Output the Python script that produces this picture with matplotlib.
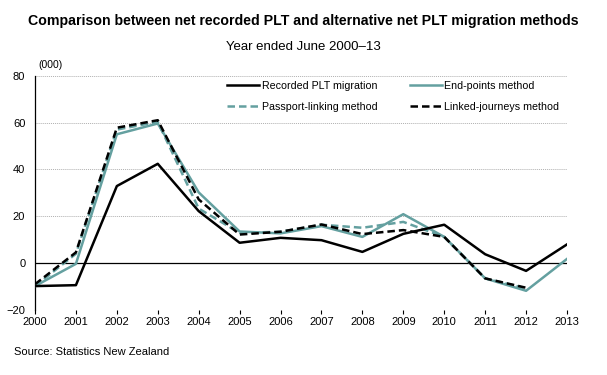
import matplotlib
matplotlib.use("Agg")
import matplotlib.pyplot as plt
import numpy as np

plt.rcParams['font.family'] = ['Liberation Sans', 'DejaVu Sans']

years = list(range(2000, 2014))
year_labels = [str(y) for y in years]
recorded = [-9.8, -9.4, 32.9, 42.4, 22.2, 8.7, 10.8, 9.8, 4.8, 12.5, 16.4, 3.8, -3.3, 8.0]
end_points = [-9.8, -0.3, 55.0, 59.6, 30.2, 13.5, 12.7, 15.8, 11.2, 20.9, 11.2, -6.5, -11.8, 1.8]
passport = [-9.8, 4.0, 57.0, 60.3, 23.3, 12.9, 13.4, 16.4, 15.1, 17.6, 11.2, -6.5, -10.8]
linked = [-9.0, 4.6, 57.8, 61.0, 27.2, 12.2, 13.4, 16.5, 12.4, 14.1, 11.2, -6.5, -10.5]

teal = '#64a0a0'

fig = plt.figure(figsize=(6.07, 3.75), dpi=100)
ax = fig.add_axes([35/607, 1-310/375, (567-35)/607, (310-75.7)/375])

ax.set_ylim(-20, 80)
ax.set_xlim(2000, 2013)
ax.set_yticks([-20, 0, 20, 40, 60, 80])
for v in [20, 40, 60, 80, -20]:
    ax.axhline(v, color='#b0b0b0', lw=0.7, ls=(0, (1, 1)), zorder=0)
ax.axhline(0, color='black', lw=0.9, zorder=1)

l1, = ax.plot(years, recorded, color='black', lw=1.8, label='Recorded PLT migration', zorder=5)
l2, = ax.plot(years, end_points, color=teal, lw=1.8, label='End-points method', zorder=3)
l3, = ax.plot(years[:len(passport)], passport, color=teal, lw=1.8, ls=(0, (3, 1.6)), label='Passport-linking method', zorder=2)
l4, = ax.plot(years[:len(linked)], linked, color='black', lw=1.8, ls=(0, (3, 1.6)), label='Linked-journeys method', zorder=4)

for s in ['top', 'right', 'bottom']:
    ax.spines[s].set_visible(False)
ax.spines['left'].set_color('black')
ax.spines['left'].set_linewidth(0.9)

ax.set_xticks(years)
ax.set_xticklabels(year_labels, fontsize=8)
ax.tick_params(axis='x', length=3, width=0.8, direction='out', pad=2, color='black')
ax.tick_params(axis='y', length=0, labelsize=8, pad=7)

leg = ax.legend(handles=[l1, l3, l2, l4], ncol=2, frameon=False, fontsize=7.7,
                loc='upper left', bbox_to_anchor=(0.343, 1.02), handlelength=3.0,
                handletextpad=0.25, columnspacing=3.0, labelspacing=1.05)

fig.text(0.5, 1-21/375, 'Comparison between net recorded PLT and alternative net PLT migration methods',
         ha='center', va='center', fontsize=10.2, fontweight='bold')
fig.text(0.5, 1-47/375, 'Year ended June 2000\u201313', ha='center', va='center', fontsize=9.5)
fig.text(38/607, 1-65/375, '(000)', ha='left', va='center', fontsize=7.5)
fig.text(14/607, 1-352/375, 'Source: Statistics New Zealand', ha='left', va='center', fontsize=8)

fig.savefig('out.png', dpi=100)
